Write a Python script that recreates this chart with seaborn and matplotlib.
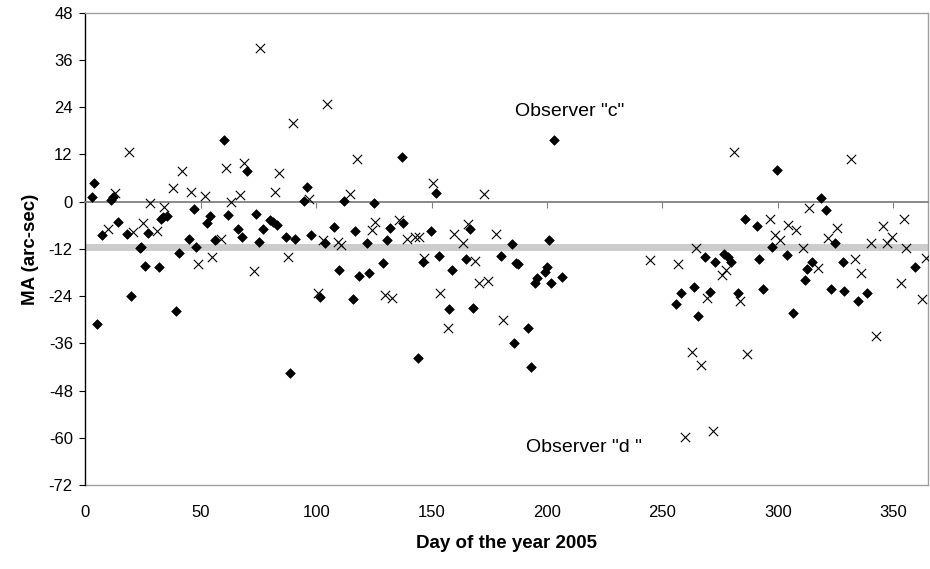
import numpy as np
import pandas as pd
import matplotlib
matplotlib.use("Agg")
import matplotlib.pyplot as plt
import seaborn as sns

# Observer "c" (filled diamonds)
c_day = [3.9, 3.0, 11.0, 12.1, 14.0, 7.1, 18.0, 27.1, 24.1, 32.7, 33.7, 35.2, 44.9, 48.0,
         47.0, 53.9, 52.9, 56.1, 59.9, 62.0, 66.0, 68.0, 70.0, 74.1, 76.9, 75.1, 80.1, 81.2,
         83.0, 87.0, 90.9, 4.9, 19.9, 25.9, 31.8, 23.9, 40.8, 39.1, 88.8, 95.9, 94.9, 111.9,
         124.9, 137.0, 151.9, 202.9, 97.8, 103.9, 107.9, 117.0, 121.9, 130.7, 131.8, 137.7,
         149.8, 166.7, 185.0, 200.8, 109.8, 118.7, 122.7, 129.0, 101.7, 115.8, 146.1, 153.0,
         158.8, 164.8, 157.7, 167.8, 143.9, 179.9, 186.7, 187.6, 191.9, 185.8, 192.9, 194.8,
         195.8, 199.0, 199.8, 201.8, 206.4, 299.8, 318.7, 320.7, 285.8, 290.8, 297.6, 303.8,
         324.7, 268.5, 272.6, 276.7, 278.3, 279.8, 291.9, 314.6, 312.4, 311.7, 328.0, 359.6,
         258.0, 263.8, 270.7, 282.9, 293.7, 322.9, 328.6, 338.8, 255.8, 265.6, 306.7, 334.8]
c_ma = [4.8, 1.3, 0.4, 1.3, -5.1, -8.5, -8.2, -8.0, -11.4, -4.5, -3.8, -3.6, -9.5, -11.4,
        -1.9, -3.6, -5.3, -9.7, 15.7, -3.4, -7.0, -8.9, 7.8, -3.2, -7.0, -10.2, -4.6, -5.1,
        -5.9, -9.0, -9.5, -31.1, -23.9, -16.3, -16.5, -11.8, -13.0, -27.7, -43.4, 3.8, 0.2, 0.3,
        -0.4, 11.3, 2.3, 15.7, -8.5, -10.4, -6.5, -7.4, -10.4, -9.7, -6.8, -5.3,
        -7.4, -6.9, -10.8, -9.7, -17.3, -19.0, -18.0, -15.5, -24.1, -24.7, -15.2, -13.8,
        -17.4, -14.5, -27.3, -26.9, -39.6, -13.8, -15.6, -15.9, -32.0, -36.0, -41.9, -20.7,
        -19.5, -17.8, -16.5, -20.7, -19.1, 8.1, 1.0, -2.1, -4.5, -6.2, -11.4, -13.5,
        -10.6, -14.0, -15.2, -13.4, -14.0, -15.2, -14.6, -15.2, -17.1, -19.9, -15.4, -16.5,
        -23.3, -21.6, -22.9, -23.1, -22.2, -22.2, -22.6, -23.3, -26.0, -29.0, -28.2, -25.2]

# Observer "d" (crosses)
d_day = [19.0, 9.9, 12.8, 20.7, 25.1, 30.9, 28.0, 34.0, 38.0, 41.9, 46.0, 52.0, 58.9, 60.8,
         63.0, 66.9, 68.7, 75.8, 82.0, 83.8, 89.9, 48.8, 54.9, 72.9, 88.0, 104.8, 117.8, 114.8,
         96.7, 150.7, 172.7, 125.6, 124.0, 136.0, 165.8, 102.9, 109.3, 110.8, 139.2, 142.9,
         144.6, 159.8, 163.8, 177.8, 101.0, 129.9, 132.8, 146.5, 153.7, 156.9, 168.8, 170.6,
         174.6, 180.9, 280.8, 331.6, 313.5, 296.6, 304.5, 307.7, 298.8, 301.0, 325.4, 321.5,
         310.7, 345.6, 354.7, 349.5, 340.5, 347.4, 355.6, 264.5, 244.8, 256.7, 277.6, 275.7,
         317.5, 333.4, 335.8, 353.2, 364.2, 269.5, 283.7, 262.8, 266.8, 286.8, 259.6, 271.7,
         342.7, 362.6]
d_ma = [12.7, -7.0, 2.3, -7.6, -5.3, -7.4, -0.3, -1.4, 3.6, 7.9, 2.5, 1.5, -9.5, 8.6,
        0.0, 1.7, 9.8, 39.0, 2.5, 7.4, 19.9, -15.8, -14.1, -17.6, -14.1, 24.8, 10.9, 1.9,
        0.6, 4.8, 2.0, -5.2, -7.2, -4.6, -5.7, -9.7, -10.3, -11.0, -9.5, -9.0,
        -8.9, -8.3, -10.4, -8.2, -23.1, -23.7, -24.5, -14.2, -23.3, -32.0, -15.1, -20.7,
        -20.1, -30.0, 12.5, 10.8, -1.7, -4.5, -5.9, -7.2, -8.5, -9.7, -6.6, -9.1,
        -11.7, -6.3, -4.5, -8.9, -10.4, -10.4, -11.8, -11.7, -14.8, -15.8, -17.3, -18.6,
        -16.8, -14.6, -18.0, -20.7, -14.4, -24.5, -25.1, -38.1, -41.5, -38.8, -59.8, -58.2,
        -34.1, -24.8]

mean_ma = -11.5
y_ticks = [-72, -60, -48, -36, -24, -12, 0, 12, 24, 36, 48]
x_ticks = [0, 50, 100, 150, 200, 250, 300, 350]

sns.set_style("white")
plt.rcParams['font.family'] = ['Liberation Sans', 'DejaVu Sans']
plt.rcParams['text.color'] = 'black'
plt.rcParams['axes.labelcolor'] = 'black'
plt.rcParams['xtick.labelcolor'] = 'black'
plt.rcParams['ytick.labelcolor'] = 'black'

df_c = pd.DataFrame({"day": c_day, "ma": c_ma})
df_d = pd.DataFrame({"day": d_day, "ma": d_ma})

fig = plt.figure(figsize=(9.3, 5.69), dpi=100)
ax = fig.add_axes([0.0917, 0.1473, 0.9061, 0.8304])

ax.axhline(mean_ma, color="#cccccc", lw=5, zorder=0.5)

sns.scatterplot(data=df_c, x="day", y="ma", marker="D", s=24, color="black",
                edgecolor="black", linewidth=0.5, ax=ax, zorder=3, legend=False)
sns.scatterplot(data=df_d, x="day", y="ma", marker="x", s=45, color="black",
                linewidth=0.8, ax=ax, zorder=3, legend=False)

ax.set_xlim(0, 365)
ax.set_ylim(-72, 48)
ax.set_yticks(y_ticks)
ax.set_yticklabels([str(v) for v in y_ticks])
ax.tick_params(axis="y", direction="out", length=4, width=0.8, color="black",
               labelcolor="black", labelsize=12, pad=5, left=True)

# x-axis line crosses at 0, tick marks there; labels at bottom
ax.spines["bottom"].set_position(("data", 0))
ax.spines["bottom"].set_color("#808080")
ax.spines["bottom"].set_linewidth(1.3)
ax.set_xticks(x_ticks)
ax.tick_params(axis="x", direction="out", length=4, width=0.8, color="#808080",
               labelbottom=False, bottom=True)

for side in ["top", "right"]:
    ax.spines[side].set_color("#a0a0a0")
    ax.spines[side].set_linewidth(1.0)
ax.spines["left"].set_color("black")
ax.spines["left"].set_linewidth(1.0)

sec = ax.secondary_xaxis("bottom")
sec.set_xticks(x_ticks)
sec.set_xticklabels([str(v) for v in x_ticks])
sec.tick_params(axis="x", length=0, labelsize=12, labelcolor="black", pad=14)
sec.spines["bottom"].set_color("#a0a0a0")
sec.spines["bottom"].set_linewidth(1.0)
sec.set_xlabel("Day of the year 2005", fontsize=13.5, fontweight="bold",
               color="black", labelpad=11)

ax.set_xlabel("")
ax.set_ylabel("MA (arc-sec)", fontsize=13.5, fontweight="bold", color="black", labelpad=7)

ax.text(186.1, 22.9, 'Observer "c"', fontsize=14, ha="left", va="center", color="black")
ax.text(190.7, -62.4, 'Observer "d "', fontsize=14, ha="left", va="center", color="black")

fig.savefig("out.png", dpi=100)
